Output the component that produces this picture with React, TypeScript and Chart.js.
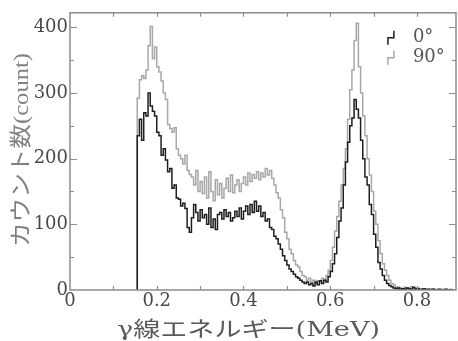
import React, { useEffect, useRef } from "react";
import { Chart, registerables } from "chart.js";

Chart.register(...registerables);

// Histogram bins: left edge of first bin and bin width (MeV)
const BIN_START = 0.155;
const BIN_WIDTH = 0.005;

const SERIES_LABELS = ["0°", "90°"];
const SERIES_COLORS = ["#1e1e1e", "#a8a8a8"];

// 0° counts per bin
const COUNTS_0 = [
  175, 235, 260, 228, 270, 265, 300, 280, 272, 265,
  240, 235, 205, 215, 198, 180, 185, 155, 160, 140,
  138, 128, 132, 124, 95, 88, 110, 130, 118, 105,
  122, 110, 115, 100, 125, 95, 108, 92, 115, 118,
  108, 122, 112, 118, 105, 110, 120, 112, 125, 108,
  120, 128, 115, 130, 118, 135, 120, 128, 112, 118,
  105, 108, 95, 92, 82, 78, 70, 62, 52, 45,
  38, 32, 28, 24, 20, 18, 15, 12, 10, 12,
  8, 10, 6, 12, 8, 14, 10, 15, 12, 20,
  28, 40, 55, 80, 105, 125, 160, 195, 225, 250,
  262, 290, 275, 262, 228, 200, 172, 160, 130, 115,
  85, 65, 42, 32, 22, 15, 10, 7, 5, 3,
  2, 3, 1, 2, 1, 3, 2, 1, 4, 1,
  2, 0, 1, 2, 0, 1, 0, 1, 0, 0,
  1, 0, 0, 1, 0, 0, 0,
];

// 90° counts per bin
const COUNTS_90 = [
  180, 292, 320, 326, 322, 335, 372, 401, 352, 370,
  340, 332, 318, 300, 290, 252, 246, 240, 247, 215,
  205, 200, 192, 205, 182, 176, 172, 160, 182, 150,
  165, 147, 172, 140, 180, 150, 136, 168, 145, 162,
  140, 155, 170, 150, 175, 148, 160, 168, 150, 162,
  172, 160, 178, 165, 176, 170, 180, 168, 178, 172,
  185, 175, 182, 170, 160, 148, 140, 122, 110, 88,
  78, 62, 55, 45, 38, 35, 28, 22, 20, 15,
  18, 12, 15, 10, 14, 12, 18, 15, 22, 30,
  45, 65, 90, 112, 135, 160, 185, 215, 260, 305,
  335, 380, 406, 340, 300, 265, 235, 200, 175, 150,
  120, 100, 75, 55, 40, 30, 22, 15, 10, 8,
  5, 4, 3, 2, 4, 2, 3, 5, 2, 1,
  3, 1, 2, 1, 0, 1, 0, 2, 0, 1,
  0, 0, 1, 0, 0, 1, 0,
];

const X_MIN = 0;
const X_MAX = 0.89;
const Y_MIN = 0;
const Y_MAX = 422;
const X_TICK_LABELS = [0, 0.2, 0.4, 0.6, 0.8];
const Y_TICK_LABELS = [0, 100, 200, 300, 400];
const X_TICK_MARKS = [0.1, 0.2, 0.3, 0.4, 0.5, 0.6, 0.7, 0.8];
const Y_TICK_MARKS = [50, 100, 150, 200, 250, 300, 350, 400];
const X_TITLE = "γ線エネルギー(MeV)";
const Y_TITLE = "カウント数(count)";

const TEXT_FONT = '"DejaVu Serif", "Liberation Serif", serif';
const X_TITLE_FONT = '"DejaVu Serif", "Noto Sans CJK JP", serif';
const Y_TITLE_FONT = '"Liberation Serif", "Noto Sans CJK JP", serif';

function toPoints(counts: number[]) {
  const pts = [{ x: BIN_START, y: 0 }];
  counts.forEach((c, i) => pts.push({ x: BIN_START + i * BIN_WIDTH, y: c }));
  return pts;
}

// draw text centred on the current origin, stretched along its baseline to a given width
function drawCentered(ctx: CanvasRenderingContext2D, text: string, targetW: number) {
  ctx.textAlign = "center";
  ctx.textBaseline = "middle";
  const w = ctx.measureText(text).width;
  const s = w > 0 ? targetW / w : 1;
  ctx.scale(s, 1);
  ctx.fillText(text, 0, 0);
}

const decorPlugin = {
  id: "decor",
  afterDatasetsDraw(chart: any) {
    const { ctx, chartArea, scales } = chart;
    const { left, right, top, bottom } = chartArea;
    const x = scales.x;
    const y = scales.y;
    ctx.save();
    // frame
    ctx.strokeStyle = "#8c8c8c";
    ctx.lineWidth = 1.5;
    ctx.strokeRect(left, top, right - left, bottom - top);
    // inward ticks on all four sides
    ctx.lineWidth = 1.2;
    ctx.beginPath();
    for (const v of X_TICK_MARKS) {
      const px = Math.round(x.getPixelForValue(v)) + 0.5;
      ctx.moveTo(px, bottom);
      ctx.lineTo(px, bottom - 4);
      ctx.moveTo(px, top);
      ctx.lineTo(px, top + 4);
    }
    for (const v of Y_TICK_MARKS) {
      const py = Math.round(y.getPixelForValue(v)) + 0.5;
      const len = v % 100 === 0 ? 7 : 4;
      ctx.moveTo(left, py);
      ctx.lineTo(left + len, py);
      ctx.moveTo(right, py);
      ctx.lineTo(right - len, py);
    }
    ctx.stroke();

    // legend (step glyph + label)
    const lx = x.getPixelForValue(0.733);
    const ly0 = y.getPixelForValue(384);
    SERIES_LABELS.forEach((lab, i) => {
      const cy = ly0 + i * 20;
      ctx.strokeStyle = SERIES_COLORS[i];
      ctx.lineWidth = 1.5;
      ctx.beginPath();
      ctx.moveTo(lx + 6, cy - 7);
      ctx.lineTo(lx + 6, cy);
      ctx.lineTo(lx, cy);
      ctx.lineTo(lx, cy + 7);
      ctx.stroke();
      ctx.fillStyle = "#555";
      ctx.font = `18px ${TEXT_FONT}`;
      ctx.textAlign = "left";
      ctx.textBaseline = "middle";
      ctx.fillText(lab, lx + 25, cy);
    });

    // axis titles
    ctx.fillStyle = "#5a5a5a";
    ctx.font = `21px ${X_TITLE_FONT}`;
    ctx.save();
    ctx.translate(248.5, 331);
    drawCentered(ctx, X_TITLE, 263);
    ctx.restore();

    ctx.fillStyle = "#808080";
    ctx.font = `22px ${Y_TITLE_FONT}`;
    ctx.save();
    ctx.translate(22, 150);
    ctx.rotate(-Math.PI / 2);
    drawCentered(ctx, Y_TITLE, 194);
    ctx.restore();

    ctx.restore();
  },
};

export default function App() {
  const ref = useRef<HTMLCanvasElement>(null);
  useEffect(() => {
    document.body.style.margin = "0";
    const canvas = ref.current;
    if (!canvas) return;
    const chart = new Chart(canvas, {
      type: "line",
      data: {
        datasets: [
          {
            label: SERIES_LABELS[0],
            data: toPoints(COUNTS_0),
            borderColor: SERIES_COLORS[0],
            borderWidth: 1.5,
            pointRadius: 0,
            stepped: "after",
            fill: false,
          },
          {
            label: SERIES_LABELS[1],
            data: toPoints(COUNTS_90),
            borderColor: SERIES_COLORS[1],
            borderWidth: 1.5,
            pointRadius: 0,
            stepped: "after",
            fill: false,
          },
        ],
      },
      options: {
        animation: false,
        responsive: false,
        devicePixelRatio: 1,
        layout: { padding: { top: 12, right: 2, left: 0, bottom: 0 } },
        plugins: { legend: { display: false }, tooltip: { enabled: false } },
        scales: {
          x: {
            type: "linear",
            min: X_MIN,
            max: X_MAX,
            grid: { display: false, drawTicks: false },
            border: { display: false },
            afterBuildTicks: (s: any) => {
              s.ticks = X_TICK_LABELS.map((v) => ({ value: v }));
            },
            afterFit: (s: any) => {
              s.height = 51;
            },
            ticks: {
              padding: 1,
              maxRotation: 0,
              autoSkip: false,
              color: "#4a4a4a",
              font: { family: TEXT_FONT, size: 18 },
              callback: (v: any) => String(v),
            },
          },
          y: {
            min: Y_MIN,
            max: Y_MAX,
            grid: { display: false, drawTicks: false },
            border: { display: false },
            afterBuildTicks: (s: any) => {
              s.ticks = Y_TICK_LABELS.map((v) => ({ value: v }));
            },
            afterFit: (s: any) => {
              s.width = 70;
            },
            ticks: {
              padding: 2,
              autoSkip: false,
              color: "#4a4a4a",
              font: { family: TEXT_FONT, size: 18 },
              callback: (v: any) => String(v),
            },
          },
        },
      },
      plugins: [decorPlugin],
    });
    return () => chart.destroy();
  }, []);
  return (
    <div style={{ width: 458, height: 341 }}>
      <canvas ref={ref} width={458} height={341} />
    </div>
  );
}
